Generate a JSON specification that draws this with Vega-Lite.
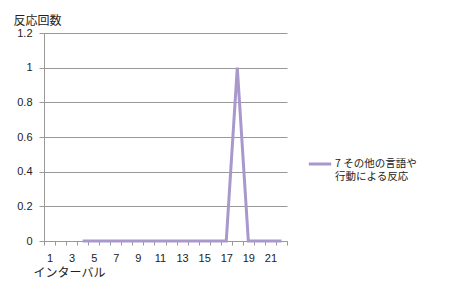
{
  "$schema": "https://vega.github.io/schema/vega-lite/v6.json",
  "autosize": {"type": "none"},
  "width": 243,
  "height": 208,
  "padding": {"left": 44, "top": 33, "right": 162, "bottom": 40},
  "background": "white",
  "config": {
    "view": {"stroke": null},
    "font": "Noto Sans CJK JP"
  },
  "data": {
    "values": [
      {"interval": 4, "count": 0, "series": "7 その他の言語や行動による反応"},
      {"interval": 5, "count": 0, "series": "7 その他の言語や行動による反応"},
      {"interval": 6, "count": 0, "series": "7 その他の言語や行動による反応"},
      {"interval": 7, "count": 0, "series": "7 その他の言語や行動による反応"},
      {"interval": 8, "count": 0, "series": "7 その他の言語や行動による反応"},
      {"interval": 9, "count": 0, "series": "7 その他の言語や行動による反応"},
      {"interval": 10, "count": 0, "series": "7 その他の言語や行動による反応"},
      {"interval": 11, "count": 0, "series": "7 その他の言語や行動による反応"},
      {"interval": 12, "count": 0, "series": "7 その他の言語や行動による反応"},
      {"interval": 13, "count": 0, "series": "7 その他の言語や行動による反応"},
      {"interval": 14, "count": 0, "series": "7 その他の言語や行動による反応"},
      {"interval": 15, "count": 0, "series": "7 その他の言語や行動による反応"},
      {"interval": 16, "count": 0, "series": "7 その他の言語や行動による反応"},
      {"interval": 17, "count": 0, "series": "7 その他の言語や行動による反応"},
      {"interval": 18, "count": 1, "series": "7 その他の言語や行動による反応"},
      {"interval": 19, "count": 0, "series": "7 その他の言語や行動による反応"},
      {"interval": 20, "count": 0, "series": "7 その他の言語や行動による反応"},
      {"interval": 21, "count": 0, "series": "7 その他の言語や行動による反応"},
      {"interval": 22, "count": 0, "series": "7 その他の言語や行動による反応"}
    ]
  },
  "mark": {"type": "line", "strokeWidth": 3, "strokeJoin": "miter"},
  "encoding": {
    "x": {
      "field": "interval",
      "type": "ordinal",
      "scale": {"domain": [1,2,3,4,5,6,7,8,9,10,11,12,13,14,15,16,17,18,19,20,21,22], "paddingInner": 0, "paddingOuter": 0},
      "axis": {
        "title": "インターバル",
        "titleFont": "Noto Sans CJK JP",
        "titleFontSize": 12,
        "titleFontWeight": "normal",
        "titleColor": "#222",
        "titleAnchor": "start",
        "titleAlign": "left",
        "titleX": -11,
        "titleY": 26,
        "labelAngle": 0,
        "labelFontSize": 11,
        "labelColor": "#222",
        "labelFont": "Liberation Sans",
        "labelPadding": 7,
        "labelExpr": "datum.value % 2 == 1 ? datum.label : ''",
        "tickBand": "extent",
        "tickSize": 4,
        "tickColor": "#999",
        "domainColor": "#999",
        "grid": false
      }
    },
    "y": {
      "field": "count",
      "type": "quantitative",
      "scale": {"domain": [0, 1.2]},
      "axis": {
        "values": [0, 0.2, 0.4, 0.6, 0.8, 1, 1.2],
        "format": "~g",
        "title": "反応回数",
        "titleFont": "Noto Sans CJK JP",
        "titleFontSize": 12,
        "titleFontWeight": "normal",
        "titleColor": "#222",
        "titleAngle": 0,
        "titleAlign": "left",
        "titleBaseline": "alphabetic",
        "titleX": -31,
        "titleY": -9,
        "labelFontSize": 11,
        "labelColor": "#222",
        "labelFont": "Liberation Sans",
        "labelPadding": 7,
        "tickSize": 5,
        "tickColor": "#999",
        "domainColor": "#999",
        "gridColor": "#999",
        "gridWidth": 1
      }
    },
    "color": {
      "field": "series",
      "type": "nominal",
      "scale": {"range": ["#A898CC"]},
      "legend": {
        "title": null,
        "orient": "none",
        "legendX": 263,
        "legendY": 118,
        "symbolType": "stroke",
        "symbolSize": 500,
        "symbolStrokeWidth": 3,
        "labelFont": "Noto Sans CJK JP",
        "labelFontSize": 10.5,
        "labelColor": "#222",
        "labelOffset": 2,
        "labelLimit": 200,
        "labelLineHeight": 18,
        "labelExpr": "['7 その他の言語や', '行動による反応']"
      }
    }
  }
}
